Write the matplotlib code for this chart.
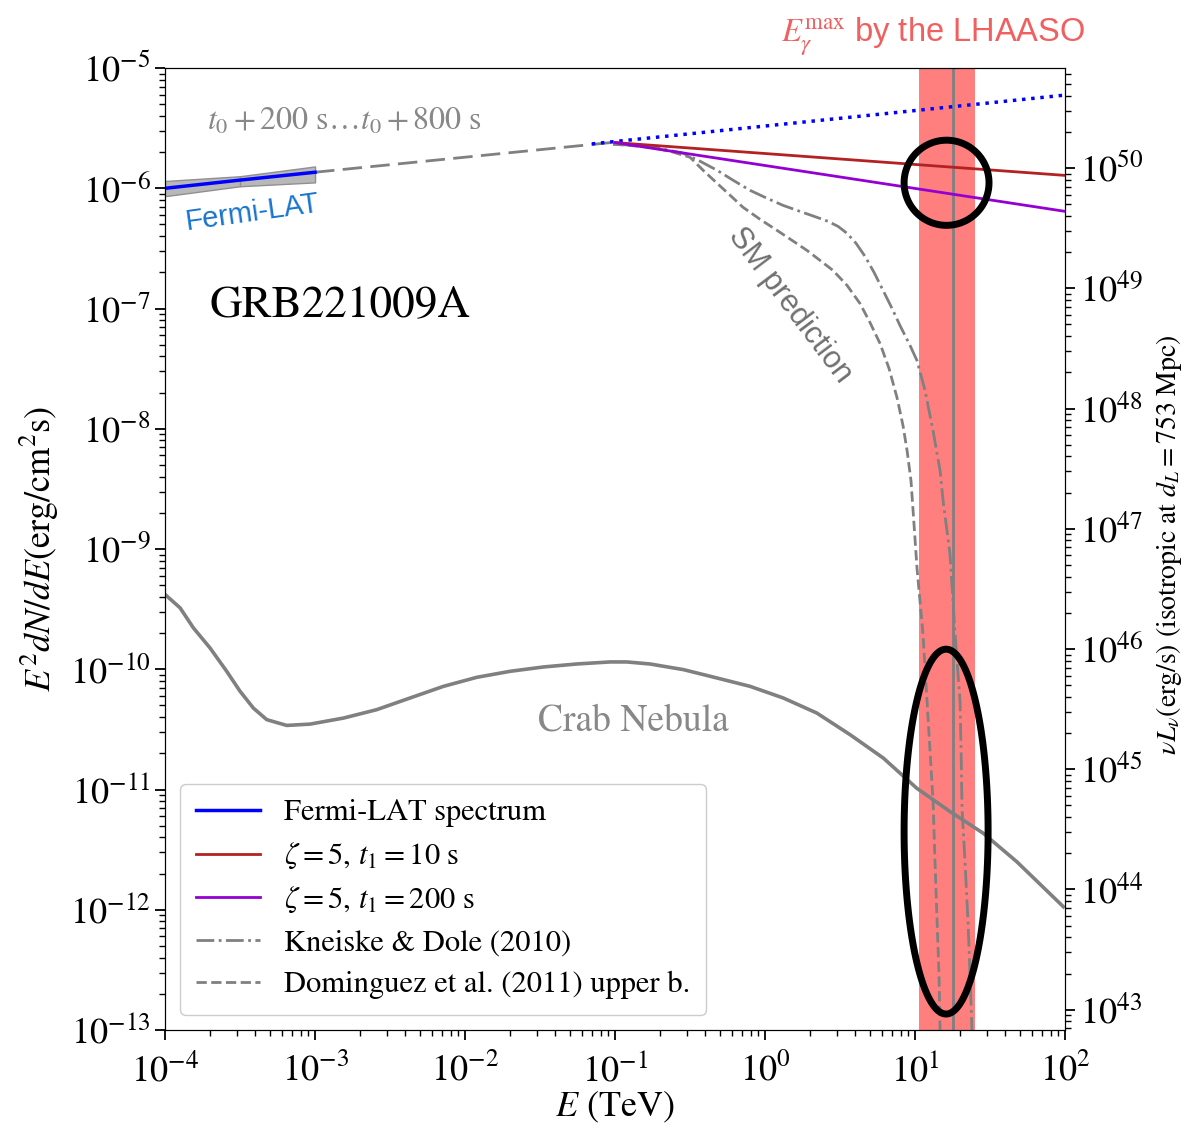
import numpy as np
import matplotlib
matplotlib.use('Agg')
import matplotlib.pyplot as plt
from matplotlib.patches import Polygon

plt.rcParams['font.family'] = ['STIXGeneral', 'DejaVu Serif']
plt.rcParams['mathtext.fontset'] = 'stix'

# Fermi-LAT spectrum t0+200 s ... t0+800 s (E in TeV, E^2 dN/dE in erg/cm^2/s)
fermi_E = [1e-4, 10**-3.5, 1e-3]
fermi_F = [1.0e-6, 1.17e-6, 1.36e-6]
fermi_lo = [0.86e-6, 1.04e-6, 1.12e-6]
fermi_hi = [1.15e-6, 1.26e-6, 1.52e-6]

# extrapolation of the power law
extrap_E = [1e-3, 0.1]
extrap_F = [1.36e-6, 2.42e-6]
dotted_E = [0.07, 100]
dotted_F = [2.34e-6, 5.96e-6]

# model curves
zeta10_E = [0.1, 100]
zeta10_F = [2.40e-6, 1.28e-6]
zeta200_E = [0.1, 100]
zeta200_F = [2.40e-6, 6.43e-7]

# SM prediction, log10 values
kd_logE = [-1.013, -0.767, -0.547, -0.433, -0.320, -0.213, -0.100, 0.013, 0.120,
           0.233, 0.347, 0.420, 0.487, 0.547, 0.607, 0.667, 0.727, 0.787, 0.847,
           0.900, 0.967, 1.013, 1.067, 1.120, 1.167, 1.187, 1.233, 1.267, 1.300,
           1.307, 1.313, 1.333, 1.353, 1.367, 1.380]
kd_logF = [-5.633, -5.650, -5.708, -5.775, -5.850, -5.933, -6.017, -6.083, -6.142,
           -6.192, -6.242, -6.275, -6.317, -6.375, -6.458, -6.567, -6.700, -6.850,
           -7.000, -7.142, -7.308, -7.433, -7.683, -8.017, -8.350, -8.600, -9.042,
           -9.708, -10.267, -10.683, -11.158, -11.600, -12.100, -12.558, -13.017]
dom_logE = [-1.013, -0.767, -0.633, -0.500, -0.413, -0.320, -0.233, -0.147, -0.033,
            0.080, 0.180, 0.280, 0.367, 0.453, 0.547, 0.633, 0.700, 0.767, 0.827,
            0.880, 0.920, 0.947, 0.973, 0.987, 1.013, 1.033, 1.053, 1.080, 1.100,
            1.120, 1.133, 1.147, 1.160, 1.167]
dom_logF = [-5.633, -5.658, -5.692, -5.742, -5.850, -5.958, -6.058, -6.158, -6.258,
            -6.350, -6.433, -6.517, -6.600, -6.683, -6.808, -6.958, -7.117, -7.292,
            -7.500, -7.742, -7.975, -8.183, -8.433, -8.683, -9.158, -9.433, -9.708,
            -10.267, -10.683, -11.100, -11.600, -12.100, -12.558, -13.017]

# Crab Nebula
crab_logE = [-4.000, -3.900, -3.811, -3.700, -3.589, -3.500, -3.411, -3.322, -3.189,
             -3.033, -2.811, -2.589, -2.367, -2.144, -1.922, -1.700, -1.478, -1.255,
             -1.033, -0.922, -0.767, -0.544, -0.322, -0.100, 0.122, 0.345, 0.567,
             0.789, 1.011, 1.233, 1.455, 1.678, 1.989]
crab_logF = [-9.378, -9.489, -9.656, -9.823, -10.017, -10.183, -10.323, -10.419,
             -10.467, -10.456, -10.406, -10.336, -10.239, -10.142, -10.067, -10.017,
             -9.981, -9.956, -9.939, -9.939, -9.956, -10.003, -10.072, -10.142,
             -10.239, -10.364, -10.544, -10.739, -10.989, -11.183, -11.364, -11.600,
             -11.975]

# LHAASO maximum photon energy (TeV)
lhaaso_lo, lhaaso_best, lhaaso_hi = 10.7, 17.8, 25.0

# contours: centre (log10 E, log10 F) and half widths in dex
ell_centers = [(1.21, -5.954), (1.207, -11.35)]
ell_halfwidths = [(0.283, 0.354), (0.28, 1.517)]

dL_Mpc = 753.0
lum_factor = 4 * np.pi * (dL_Mpc * 3.0857e24) ** 2

fig = plt.figure(figsize=(11.90, 11.38), dpi=100)
ax = fig.add_axes([0.1387, 0.0949, 0.7563, 0.8453])
ax.set_xscale('log')
ax.set_yscale('log')

ax.axvspan(lhaaso_lo, lhaaso_hi, color='red', alpha=0.5, lw=0, zorder=1)
ax.axvline(lhaaso_best, color='gray', lw=2, zorder=2)

ax.fill_between(fermi_E[:2], fermi_lo[:2], fermi_hi[:2], facecolor='#b8b8b8',
                edgecolor='#909090', lw=1, zorder=3)
ax.fill_between(fermi_E[1:], fermi_lo[1:], fermi_hi[1:], facecolor='#b8b8b8',
                edgecolor='#909090', lw=1, zorder=3)
ax.plot(fermi_E, fermi_F, color='blue', lw=2.5, zorder=5, label='Fermi-LAT spectrum')
ax.plot(extrap_E, extrap_F, color='gray', lw=2, dashes=(7, 3), zorder=4)
ax.plot(dotted_E, dotted_F, color='blue', lw=2.5, ls=':', zorder=4)

ax.plot(zeta10_E, zeta10_F, color='firebrick', lw=2, zorder=5,
        label=r'$\zeta = 5,\, t_1 = 10$ s')
ax.plot(zeta200_E, zeta200_F, color='darkviolet', lw=2, zorder=5,
        label=r'$\zeta = 5,\, t_1 = 200$ s')
ax.plot(10**np.array(kd_logE), 10**np.array(kd_logF), color='gray', lw=2, ls='-.',
        zorder=4, label='Kneiske & Dole (2010)')
ax.plot(10**np.array(dom_logE), 10**np.array(dom_logF), color='gray', lw=2, ls='--',
        zorder=4, label='Dominguez et al. (2011) upper b.')
ax.plot(10**np.array(crab_logE), 10**np.array(crab_logF), color='gray', lw=2.6, zorder=4)

t = np.linspace(0, 2 * np.pi, 400, endpoint=False)
for (cx, cy), (wx, wy) in zip(ell_centers, ell_halfwidths):
    pts = np.column_stack([10**(cx + wx * np.cos(t)), 10**(cy + wy * np.sin(t))])
    ax.add_patch(Polygon(pts, closed=True, fill=False, edgecolor='black', lw=5,
                         joinstyle='round', zorder=6))

ax.set_xlim(1e-4, 1e2)
ax.set_ylim(1e-13, 1e-5)

ax.tick_params(which='both', direction='out', labelsize=26, top=False, right=False)
ax.tick_params(which='major', length=7, width=1.3)
ax.tick_params(which='minor', length=4, width=1.0)
ax.tick_params(axis='x', pad=10)

ax.set_xlabel(r'$E$ (TeV)', fontsize=26, labelpad=0)
ax.set_ylabel(r'$E^2dN/dE(\mathrm{erg/cm^2s})$', fontsize=26, labelpad=6)

ax2 = ax.twinx()
ax2.set_yscale('log')
ax2.set_ylim(1e-13 * lum_factor, 1e-5 * lum_factor)
ax2.tick_params(which='both', direction='out', labelsize=26)
ax2.tick_params(which='major', length=7, width=1.3)
ax2.tick_params(which='minor', length=4, width=1.0)
fig.text(0.982, 0.521, r'$\nu L_\nu$(erg/s) (isotropic at $d_L = 753$ Mpc)',
         rotation=90, ha='center', va='center', fontsize=20)

leg = ax.legend(loc='lower left', fontsize=22, handlelength=2.1, borderpad=0.5,
                labelspacing=0.45, handletextpad=0.8, bbox_to_anchor=(0.0, 0.0),
                framealpha=1, edgecolor='#cccccc', fancybox=True)

ax.text(1.47e-3, 1.06e-7, 'GRB221009A', fontsize=32.5, ha='center', va='center')
ax.text(1.56e-3, 3.55e-6, r'$t_0+200$ s$\ldots t_0+800$ s', fontsize=23,
        color='#888888', ha='center', va='center')
ax.text(3.8e-4, 6.3e-7, 'Fermi-LAT', fontsize=21, color='#1874cd', rotation=8,
        ha='center', va='center', family=['Liberation Sans', 'DejaVu Sans'])
ax.text(0.132, 3.69e-11, 'Crab Nebula', fontsize=27, color='#888888',
        ha='center', va='center')
ax.text(1.47, 1.06e-7, 'SM prediction', fontsize=22, color='#707070', rotation=-53,
        ha='center', va='center', family=['Liberation Sans', 'DejaVu Sans'])
fig.text(0.784, 0.9675, r'$E_\gamma^{\max}$ by the LHAASO', fontsize=23.5,
         color='#f06060', ha='center', va='center',
         family=['Liberation Sans', 'DejaVu Sans'])

fig.savefig('out.png', dpi=100)
